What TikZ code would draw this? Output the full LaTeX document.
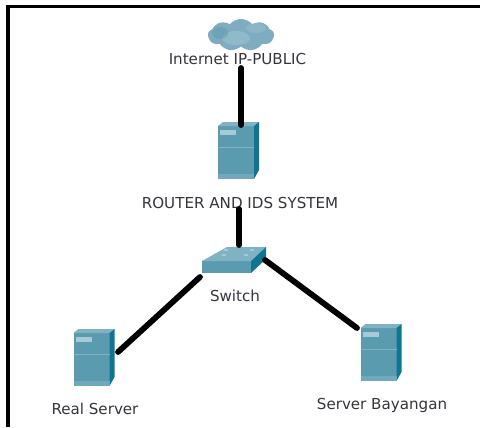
\documentclass[tikz,border=0pt]{standalone}
\usepackage{fontspec}
\setmainfont{DejaVu Sans}
\usetikzlibrary{calc,shapes.symbols}
\definecolor{boxfront}{HTML}{5A9BB0}
\definecolor{boxside}{HTML}{0F7590}
\definecolor{boxtop}{HTML}{7FB3C4}
\definecolor{boxlight}{HTML}{A6CBD6}
\definecolor{cloudblue}{HTML}{7FACC0}
\definecolor{labelgray}{HTML}{35353F}
\tikzset{
	serverbox/.style={minimum width=36*0.02cm, minimum height=53*0.02cm, inner sep=0pt, outer sep=0pt, fill=boxfront},
	switchbox/.style={minimum width=49*0.02cm, minimum height=12*0.02cm, inner sep=0pt, outer sep=0pt, fill=boxfront},
	devlabel/.style={font=\fontsize{8.6}{10}\selectfont, text=labelgray, inner sep=0pt},
	link/.style={line width=3.3pt, line cap=round, black}
}
% top and side faces of a server, with its light strip
\newcommand{\serverfaces}[1]{
	\fill[boxtop] (#1.north west)--++(5,-4)--++(36,0)--(#1.north east)--cycle;
	\fill[boxside] (#1.north east)--++(5,-4)--++(0,48)--(#1.south east)--cycle;
	\fill[boxlight] ($(#1.north west)+(2,4)$) rectangle ++(16,5);
	\draw[boxtop,line width=0.4pt] ($(#1.west)+(0,-5)$)--++(36,0);
	\fill[boxtop,opacity=0.6] ($(#1.south west)+(0,-5)$) rectangle (#1.south east);
}
\begin{document}
\begin{tikzpicture}[x=0.02cm,y=-0.02cm]
	\useasboundingbox (0,0) rectangle (480,427);
	\fill[white] (0,0) rectangle (480,427);
	\draw[line width=2.1pt] (8,427)--(8,6.5)--(480,6.5);

	% cloud
	\node[cloud, cloud puffs=9, cloud puff arc=100, aspect=2.1, fill=cloudblue, minimum width=66*0.02cm, minimum height=32*0.02cm, inner sep=0pt] (internet) at (241,35) {};
	\fill[boxlight,opacity=0.45] (236,38) ellipse (14 and 7);
	\fill[boxlight,opacity=0.35] (256,28) ellipse (10 and 5);
	\fill[boxfront,opacity=0.5] (220,33) ellipse (8 and 6);

	% devices
	\node[serverbox] (router) at (236,152.5) {};
	\serverfaces{router}
	\node[serverbox] (real) at (91.5,359.5) {};
	\serverfaces{real}
	\node[serverbox] (bayangan) at (378.5,354.5) {};
	\serverfaces{bayangan}
	\node[switchbox] (switch) at (226.5,267) {};
	\fill[boxtop] (switch.north west)--++(25,-14)--++(39,0)--(switch.north east)--cycle;
	\fill[boxside] (switch.north east)--++(15,-14)--++(0,12)--(switch.south east)--cycle;
	\foreach \x/\y in {224/255,246/255,226/250,252/250}
		\fill[boxlight] (\x,\y) ellipse (2.5 and 1);

	% labels
	\node[devlabel] (internetlabel) at (237.5,59) {Internet IP-PUBLIC};
	\node[devlabel] (routerlabel) at (240,203) {ROUTER AND IDS SYSTEM};
	\node[devlabel] (switchlabel) at (235,296) {Switch};
	\node[devlabel] (reallabel) at (95,409) {Real Server};
	\node[devlabel] (bayanganlabel) at (382,405) {Server Bayangan};

	% free ends of the connectors
	\coordinate (a1) at (241,68);
	\coordinate (a2) at (241,125);
	\coordinate (b1) at (239,209);
	\coordinate (b2) at (239,245);
	\coordinate (c1) at (200,277);
	\coordinate (c2) at (118,352);
	\coordinate (d1) at (265,260);
	\coordinate (d2) at (357,328);
	\draw[link] (a1)--(a2);
	\draw[link] (b1)--(b2);
	\draw[link] (c1)--(c2);
	\draw[link] (d1)--(d2);
\end{tikzpicture}
\end{document}
